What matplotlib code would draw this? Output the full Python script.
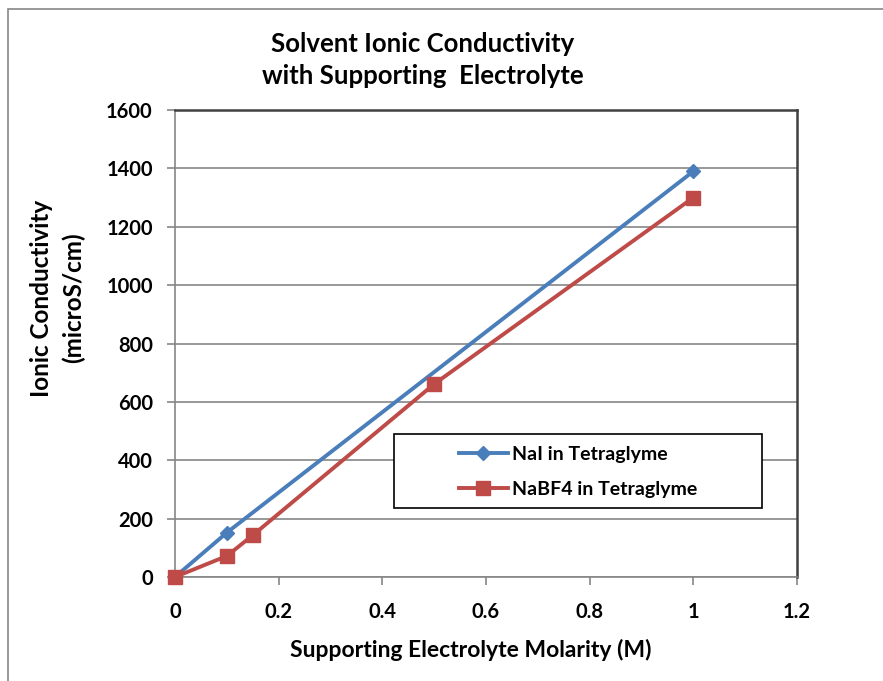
import matplotlib
matplotlib.use("Agg")
from matplotlib import pyplot as plt
from matplotlib.patches import Rectangle
from matplotlib.lines import Line2D

# Datos
nai_x = [0, 0.1, 1.0]
nai_y = [0, 152, 1390]
nabf4_x = [0, 0.1, 0.15, 0.5, 1.0]
nabf4_y = [0, 72, 143, 661, 1300]

x_ticks = [0, 0.2, 0.4, 0.6, 0.8, 1, 1.2]
x_labels = ["0", "0.2", "0.4", "0.6", "0.8", "1", "1.2"]
y_ticks = [0, 200, 400, 600, 800, 1000, 1200, 1400, 1600]

titulo = "Solvent Ionic Conductivity\nwith Supporting  Electrolyte"
x_titulo = "Supporting Electrolyte Molarity (M)"
y_titulo = "Ionic Conductivity\n(microS/cm)"
nombres = ["NaI in Tetraglyme", "NaBF4 in Tetraglyme"]

azul = "#4a7ebb"
rojo = "#be4b48"
gris = "#868686"

plt.rcParams["font.family"] = ["Lato", "DejaVu Sans"]
plt.rcParams["font.weight"] = "bold"

fig = plt.figure(figsize=(8.83, 6.81), dpi=100)
ax = fig.add_axes([175 / 883, 1 - 577 / 681, 622 / 883, 467 / 681])

# Borde exterior del grafico
fig.add_artist(Rectangle((8 / 883, -0.01), 1.0, 1 - 9 / 681 + 0.01,
                         transform=fig.transFigure, fill=False,
                         edgecolor=gris, linewidth=1.2))

ax.plot(nai_x, nai_y, color=azul, linewidth=2.8, marker="D", markersize=7,
        markerfacecolor=azul, markeredgecolor=azul, zorder=3, clip_on=False)
ax.plot(nabf4_x, nabf4_y, color=rojo, linewidth=2.8, marker="s", markersize=10,
        markerfacecolor=rojo, markeredgecolor=rojo, zorder=4, clip_on=False)

ax.set_xlim(0, 1.2)
ax.set_ylim(0, 1600)
ax.set_xticks(x_ticks)
ax.set_xticklabels(x_labels)
ax.set_yticks(y_ticks)
ax.grid(axis="y", color=gris, linewidth=1.2)
ax.set_axisbelow(True)

for lado in ["left", "bottom"]:
    ax.spines[lado].set_color(gris)
    ax.spines[lado].set_linewidth(1.2)
for lado in ["top", "right"]:
    ax.spines[lado].set_color("#404040")
    ax.spines[lado].set_linewidth(1.8)

ax.tick_params(axis="both", colors=gris, labelcolor="black", labelsize=14.5,
               length=6, width=1.2, direction="out")
ax.tick_params(axis="x", pad=12)
ax.tick_params(axis="y", pad=10)
for t in ax.get_xticklabels() + ax.get_yticklabels():
    t.set_fontweight("bold")

fig.text(423 / 883, 1 - 60 / 681, titulo, ha="center", va="center",
         fontsize=18.5, fontweight="bold", linespacing=1.4)
fig.text(471 / 883, 1 - 650 / 681, x_titulo, ha="center", va="center",
         fontsize=16.5, fontweight="bold")
fig.text(58 / 883, 1 - 298 / 681, y_titulo, ha="center", va="center",
         rotation=90, fontsize=17.5, fontweight="bold", linespacing=1.45)

# Marco de la leyenda
fig.add_artist(Rectangle((394 / 883, 1 - 508 / 681), 368 / 883, 74 / 681,
                         transform=fig.transFigure, facecolor="white",
                         edgecolor="black", linewidth=1.2, zorder=5))

handles = [
    Line2D([], [], color=azul, linewidth=2.8, marker="D", markersize=7),
    Line2D([], [], color=rojo, linewidth=2.8, marker="s", markersize=10),
]
leg = fig.legend(handles, nombres, loc="center",
                 bbox_to_anchor=(578 / 883, 1 - 472 / 681),
                 prop={"weight": "bold", "size": 14},
                 frameon=False, handlelength=2.5,
                 labelspacing=0.95, handletextpad=0.2)
leg.set_zorder(10)

fig.savefig("out.png", dpi=100)
